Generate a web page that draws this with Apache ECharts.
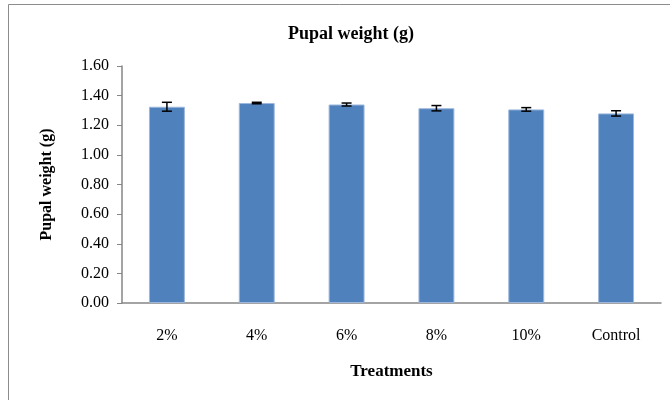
<!DOCTYPE html>
<html>
<head>
<meta charset="utf-8">
<script src="https://cdn.jsdelivr.net/npm/echarts@6/dist/echarts.min.js"></script>
<style>html,body{margin:0;padding:0;background:#fff}#c{width:670px;height:400px}</style>
</head>
<body>
<div id="c"></div>
<script>
var categories = ['2%', '4%', '6%', '8%', '10%', 'Control'];
var pupalWeight = [1.325, 1.350, 1.340, 1.315, 1.307, 1.280];
var stdError = [0.030, 0.005, 0.010, 0.018, 0.012, 0.018];
var yTicks = ['0.00','0.20','0.40','0.60','0.80','1.00','1.20','1.40','1.60'];

var errData = categories.map(function (c, i) {
  return [i, pupalWeight[i] - stdError[i], pupalWeight[i] + stdError[i]];
});

var font = '"Liberation Serif", "Times New Roman", serif';
var chart = echarts.init(document.getElementById('c'), null, {renderer: 'canvas'});
chart.setOption({
  animation: false,
  backgroundColor: '#fff',
  graphic: [{
    type: 'rect', shape: {x: 8.5, y: 4.5, width: 700, height: 500},
    style: {fill: 'none', stroke: '#8c8c8c', lineWidth: 1}, silent: true
  }],
  title: {
    text: 'Pupal weight (g)', left: 283, top: 20,
    textStyle: {fontFamily: font, fontWeight: 'bold', fontSize: 18, color: '#000'}
  },
  grid: {left: 122, right: 9, top: 66, bottom: 97},
  xAxis: {
    type: 'category', data: categories,
    name: 'Treatments', nameLocation: 'middle', nameGap: 60,
    nameTextStyle: {fontFamily: font, fontWeight: 'bold', fontSize: 17, color: '#000'},
    axisLine: {lineStyle: {color: '#868686', width: 1.5}},
    axisTick: {show: false},
    axisLabel: {fontFamily: font, fontSize: 16, color: '#000', margin: 25}
  },
  yAxis: {
    type: 'value', min: 0, max: 1.6, interval: 0.2,
    name: 'Pupal weight (g)', nameLocation: 'middle', nameGap: 67,
    nameTextStyle: {fontFamily: font, fontWeight: 'bold', fontSize: 16, color: '#000'},
    axisLine: {show: true, lineStyle: {color: '#868686', width: 1.5}},
    axisTick: {show: true, length: 5, lineStyle: {color: '#868686'}},
    splitLine: {show: false},
    axisLabel: {
      fontFamily: font, fontSize: 16, color: '#000', margin: 13,
      formatter: function (v) { return yTicks[Math.round(v / 0.2)]; }
    }
  },
  series: [{
    type: 'bar', data: pupalWeight, barCategoryGap: '60%',
    itemStyle: {color: '#4F81BD', borderColor: '#9db7dc', borderWidth: 1}
  }, {
    type: 'custom', data: errData, z: 10,
    renderItem: function (params, api) {
      var x = api.value(0);
      var lo = api.coord([x, api.value(1)]);
      var hi = api.coord([x, api.value(2)]);
      var w = 5;
      var st = {stroke: '#000', lineWidth: 1.5};
      return {type: 'group', children: [
        {type: 'line', shape: {x1: lo[0], y1: lo[1], x2: hi[0], y2: hi[1]}, style: st},
        {type: 'line', shape: {x1: lo[0] - w, y1: lo[1], x2: lo[0] + w, y2: lo[1]}, style: st},
        {type: 'line', shape: {x1: hi[0] - w, y1: hi[1], x2: hi[0] + w, y2: hi[1]}, style: st}
      ]};
    }
  }]
});
</script>
</body>
</html>
